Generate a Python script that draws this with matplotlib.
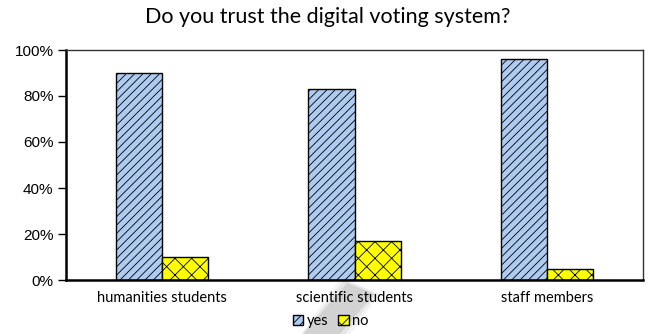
import numpy as np
import matplotlib.pyplot as plt
from matplotlib.ticker import FuncFormatter
from matplotlib.patches import Polygon

categories = ['humanities students', 'scientific students', 'staff members']
yes_pct = [90, 83, 96]
no_pct = [10, 17, 5]

plt.rcParams['hatch.linewidth'] = 0.6

W, H = 651, 334
fig = plt.figure(figsize=(W / 100, H / 100), dpi=100)
ax = fig.add_axes([66/W, 54/H, 577/W, 230/H])

# faint grey smudge behind the bottom labels
def px(pts):
    return [(a / W, 1 - b / H) for a, b in pts]
for grow, alpha in [(6, 0.10), (3, 0.15), (0, 0.25)]:
    pts = [(347 - grow, 283 - grow), (374 + grow, 294), (340 + grow, 334 + grow),
           (303 - grow, 334 + grow)]
    fig.patches.append(Polygon(px(pts), closed=True, transform=fig.transFigure,
                               facecolor='#9a9a9a', edgecolor='none',
                               alpha=alpha, zorder=-5))

x = np.arange(len(categories))
w = 0.24
ax.bar(x - w/2, yes_pct, w, color='#aecbf2', edgecolor='black', linewidth=1.0,
       hatch='////', label='yes')
ax.bar(x + w/2, no_pct, w, color='#ffff00', edgecolor='black', linewidth=1.0,
       hatch='xx', label='no')

ax.set_xlim(-0.5, 2.5)
ax.set_ylim(0, 100)
ax.set_yticks(range(0, 101, 20))
ax.yaxis.set_major_formatter(FuncFormatter(lambda v, p: '%d%%' % v))
ax.set_xticks(x)
ax.set_xticklabels(categories, fontfamily='Lato', fontsize=10.5)
ax.tick_params(axis='x', length=0, pad=8)
ax.tick_params(axis='y', direction='out', length=6, width=1, pad=3,
               labelsize=11)
for t in ax.get_yticklabels():
    t.set_fontfamily('Liberation Sans')
ax.patch.set_alpha(0)

for s in ['left', 'bottom']:
    ax.spines[s].set_linewidth(1.8)
    ax.spines[s].set_color('black')
for s in ['top', 'right']:
    ax.spines[s].set_linewidth(1.0)
    ax.spines[s].set_color('#333333')

fig.suptitle('Do you trust the digital voting system?', x=0.503, y=0.98,
             fontfamily='Lato', fontsize=15.5)

leg = fig.legend(loc='center', bbox_to_anchor=(0.508, 0.038), ncol=2,
                 frameon=False, prop={'family': 'Lato', 'size': 10.5},
                 handlelength=0.7, handleheight=0.7, handletextpad=0.25,
                 columnspacing=0.7, borderaxespad=0)

fig.savefig('out.png', dpi=100)
